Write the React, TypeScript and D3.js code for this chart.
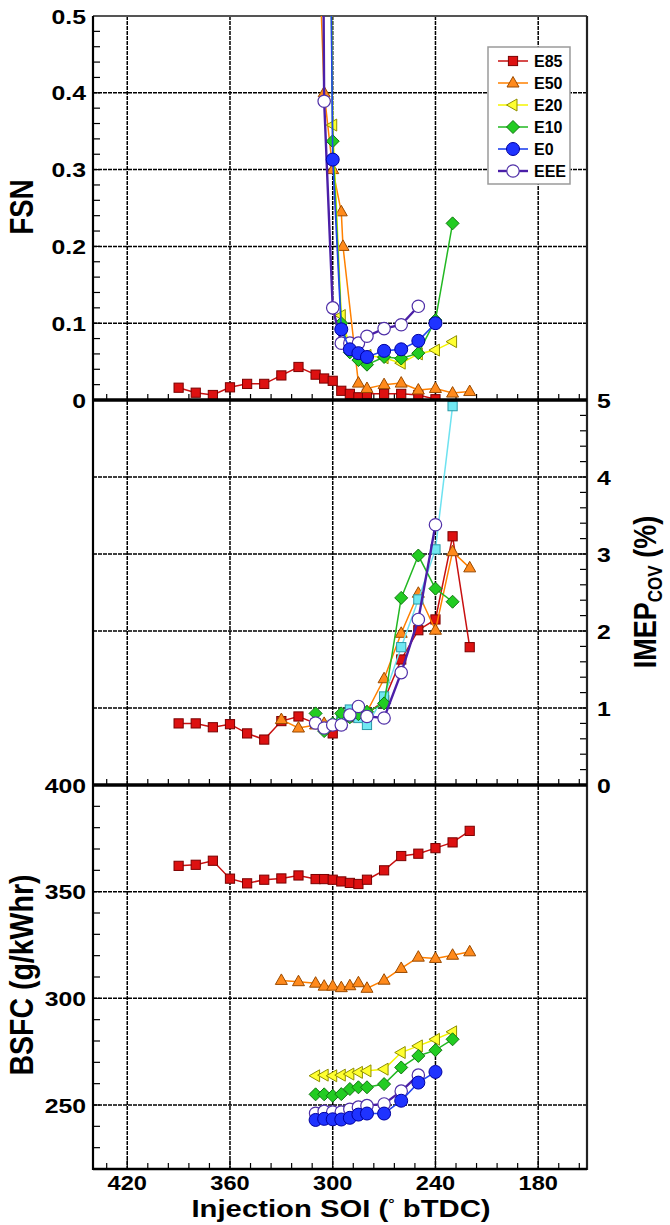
import React from 'react';
import * as d3 from 'd3';

// ---------------- data ----------------
// FSN (top panel)
const fsnSoiE85 = [390, 380, 370, 360, 350, 340, 330, 320, 310, 305, 300, 295, 290, 285, 280, 270, 260, 250, 240];
const fsnE85 = [0.016, 0.0095, 0.0065, 0.0165, 0.021, 0.021, 0.032, 0.043, 0.033, 0.028, 0.025, 0.012, 0.008, 0.0035, 0.008, 0.008, 0.008, 0.0065, 0.001];
const fsnSoiE50 = [310, 305, 300, 295, 294, 285, 280, 270, 260, 250, 240, 230, 220];
const fsnE50 = [0.71, 0.40, 0.30, 0.245, 0.20, 0.022, 0.015, 0.02, 0.022, 0.013, 0.015, 0.009, 0.011];
const fsnSoiE20 = [305, 300, 295, 290, 285, 280, 270, 260, 250, 240, 230];
const fsnE20 = [1.4, 0.358, 0.11, 0.068, 0.062, 0.058, 0.055, 0.048, 0.06, 0.065, 0.076];
const fsnSoiE10 = [305, 300, 295, 290, 285, 280, 270, 260, 250, 240, 230];
const fsnE10 = [1.4, 0.337, 0.10, 0.062, 0.052, 0.046, 0.056, 0.054, 0.061, 0.104, 0.23];
const fsnSoiE0 = [305, 300, 295, 290, 285, 280, 270, 260, 250, 240];
const fsnE0 = [1.48, 0.313, 0.092, 0.066, 0.061, 0.056, 0.064, 0.066, 0.077, 0.100];
const fsnSoiEEE = [310, 305, 300, 295, 290, 285, 280, 270, 260, 250];
const fsnEEE = [2.2, 0.389, 0.12, 0.074, 0.074, 0.074, 0.083, 0.093, 0.098, 0.122];

// IMEP COV (middle panel)
const imepSoiE85 = [390, 380, 370, 360, 350, 340, 330, 320, 310, 305, 300, 295, 290, 285, 280, 270, 260, 250, 240, 230, 220];
const imepE85 = [0.80, 0.80, 0.75, 0.79, 0.67, 0.59, 0.83, 0.89, 0.80, 0.74, 0.67, 0.78, 0.88, 0.95, 0.92, 1.10, 1.63, 2.01, 2.15, 3.23, 1.79];
const imepSoiE50 = [330, 320, 310, 305, 300, 295, 290, 285, 280, 270, 260, 250, 240, 230, 220];
const imepE50 = [0.85, 0.74, 0.78, 0.80, 0.79, 0.82, 0.90, 0.95, 0.95, 1.38, 1.97, 2.49, 2.01, 3.03, 2.82];
const imepSoiCyan = [305, 300, 295, 290, 285, 280, 270, 260, 250, 240, 230];
const imepCyan = [0.75, 0.78, 0.85, 0.98, 0.87, 0.78, 1.15, 1.79, 2.41, 3.06, 4.92];
const imepSoiE10 = [310, 305, 300, 295, 290, 285, 280, 270, 260, 250, 240, 230];
const imepE10 = [0.93, 0.70, 0.80, 0.93, 0.88, 0.92, 0.95, 1.06, 2.43, 2.98, 2.55, 2.38];
const imepSoiEEE = [310, 305, 300, 295, 290, 285, 280, 270, 260, 250, 240];
const imepEEE = [0.805, 0.74, 0.78, 0.78, 0.91, 1.02, 0.89, 0.87, 1.46, 2.15, 3.38];

// BSFC (bottom panel)
const bsfcSoiE85 = [390, 380, 370, 360, 350, 340, 330, 320, 310, 305, 300, 295, 290, 285, 280, 270, 260, 250, 240, 230, 220];
const bsfcE85 = [362.1, 362.6, 364.5, 356.1, 353.9, 355.6, 356.2, 357.6, 355.9, 355.9, 355.6, 354.8, 354.1, 353.6, 355.6, 360, 366.7, 367.8, 370.4, 373.1, 378.5];
const bsfcSoiE50 = [330, 320, 310, 305, 300, 295, 290, 285, 280, 270, 260, 250, 240, 230, 220];
const bsfcE50 = [308.4, 307.8, 307.1, 305.7, 305.7, 305, 305.9, 307.3, 304.7, 308.5, 314, 319.3, 318.7, 320.2, 321.8];
const bsfcSoiE20 = [310, 305, 300, 295, 290, 285, 280, 270, 260, 250, 240, 230];
const bsfcE20 = [263.7, 264, 263.7, 264, 264.5, 265.3, 266, 266.8, 274.6, 277.7, 280.8, 284.3];
const bsfcSoiE10 = [310, 305, 300, 295, 290, 285, 280, 270, 260, 250, 240, 230];
const bsfcE10 = [255, 255, 254.3, 255.1, 257.5, 258.3, 258.3, 259.8, 267.6, 273, 275.7, 280.8];
const bsfcSoiE0 = [310, 305, 300, 295, 290, 285, 280, 270, 260, 250, 240];
const bsfcE0 = [243, 243.5, 243.3, 243.2, 244, 245.5, 246, 246, 252, 260.5, 265.5];
const bsfcSoiEEE = [310, 305, 300, 295, 290, 285, 280, 270, 260, 250];
const bsfcEEE = [246.1, 247, 246.7, 246.7, 248, 249, 249.7, 250.5, 256.5, 264];

const legendNames = ['E85', 'E50', 'E20', 'E10', 'E0', 'EEE'];
const xTicks = [420, 360, 300, 240, 180];
const fsnTicks = [0, 0.1, 0.2, 0.3, 0.4, 0.5];
const imepTicks = [0, 1, 2, 3, 4, 5];
const bsfcTicks = [250, 300, 350, 400];

// ---------------- styles ----------------
type MType = 'square' | 'tri' | 'triLeft' | 'diamond' | 'circle' | 'circleOpen';
const STY: Record<string, { m: MType; fill: string; stroke: string; line: string; lw: number }> = {
  E85: { m: 'square', fill: '#dd1111', stroke: '#7a0000', line: '#c81010', lw: 1.5 },
  E50: { m: 'tri', fill: '#ff8a1c', stroke: '#9a4a00', line: '#ff8000', lw: 1.5 },
  E20: { m: 'triLeft', fill: '#ffff30', stroke: '#8f8f00', line: '#f4f400', lw: 1.5 },
  E10: { m: 'diamond', fill: '#22cc22', stroke: '#117711', line: '#22b822', lw: 1.5 },
  E0: { m: 'circle', fill: '#1f33ff', stroke: '#0000a0', line: '#2244ee', lw: 1.6 },
  EEE: { m: 'circleOpen', fill: '#ffffff', stroke: '#5030a8', line: '#4b1fa8', lw: 2.4 },
  CY: { m: 'square', fill: '#70e8f2', stroke: '#2a9aa8', line: '#6ee2f0', lw: 1.5 },
};

const FONT = 'Liberation Sans, Arial, Helvetica, sans-serif';
const SX = 1.18;

const X0 = 93, X1 = 587;
const x = d3.scaleLinear().domain([440, 151.5]).range([X0, X1]);
const yF = d3.scaleLinear().domain([0, 0.5]).range([400, 16]);
const yI = d3.scaleLinear().domain([0, 5]).range([785, 400]);
const yB = d3.scaleLinear().domain([220, 400]).range([1169, 785]);

function Marker({ t, cx, cy, s }: { t: MType; cx: number; cy: number; s: any }) {
  const p = { fill: s.fill, stroke: s.stroke, strokeWidth: 1 };
  if (t === 'square') return <rect x={cx - 4.6} y={cy - 4.6} width={9.2} height={9.2} {...p} />;
  if (t === 'tri') return <polygon points={`${cx},${cy - 6.5} ${cx + 6},${cy + 4} ${cx - 6},${cy + 4}`} {...p} />;
  if (t === 'triLeft') return <polygon points={`${cx - 6.5},${cy} ${cx + 4},${cy - 6} ${cx + 4},${cy + 6}`} {...p} />;
  if (t === 'diamond') return <polygon points={`${cx},${cy - 6.5} ${cx + 6.5},${cy} ${cx},${cy + 6.5} ${cx - 6.5},${cy}`} {...p} />;
  if (t === 'circle') return <circle cx={cx} cy={cy} r={6.5} {...p} />;
  return <circle cx={cx} cy={cy} r={6.2} fill="#fff" stroke={s.stroke} strokeWidth={1.2} />;
}

function Series({ xs, ys, y, k }: { xs: number[]; ys: number[]; y: any; k: string }) {
  const s = STY[k];
  const pts: [number, number][] = xs.map((v, i) => [x(v), y(ys[i])]);
  const line = d3.line()(pts) || '';
  return (
    <g>
      <path d={line} fill="none" stroke={s.line} strokeWidth={s.lw} />
      {pts.map((p, i) => <Marker key={i} t={s.m} cx={p[0]} cy={p[1]} s={s} />)}
    </g>
  );
}

function T({ x: tx, y: ty, size, anchor = 'middle', rot = false, children, sx = SX }: any) {
  return (
    <text
      transform={`translate(${tx},${ty}) scale(${sx},1)${rot ? ' rotate(-90)' : ''}`}
      textAnchor={anchor}
      fontFamily={FONT}
      fontWeight="bold"
      fontSize={size}
      fill="#000"
    >
      {children}
    </text>
  );
}

export default function App() {
  const xMinor = d3.range(432, 150, -12);
  const gridStyle = { stroke: '#000', strokeWidth: 1.5, strokeDasharray: '4,1' };
  const fsnMinor = d3.range(0.02, 0.5, 0.02);
  const bsfcMinor = d3.range(230, 400, 10);
  const imepMinor = d3.range(0.2, 5, 0.2);

  return (
    <svg width={670} height={1225} style={{ position: 'absolute', left: 0, top: 0, background: '#fff' }}>
      <defs>
        <clipPath id="cT"><rect x={X0} y={16} width={X1 - X0} height={384} /></clipPath>
        <clipPath id="cM"><rect x={X0} y={400} width={X1 - X0} height={385} /></clipPath>
        <clipPath id="cB"><rect x={X0} y={785} width={X1 - X0} height={384} /></clipPath>
      </defs>
      <rect x={0} y={0} width={670} height={1225} fill="#fff" />

      {/* grid */}
      {xTicks.map(v => <line key={'gx' + v} x1={x(v)} x2={x(v)} y1={16} y2={1169} {...gridStyle} />)}
      {fsnTicks.filter(v => v > 0 && v < 0.5).map(v => <line key={'gf' + v} x1={X0} x2={X1} y1={yF(v)} y2={yF(v)} {...gridStyle} />)}
      {imepTicks.filter(v => v > 0 && v < 5).map(v => <line key={'gi' + v} x1={X0} x2={X1} y1={yI(v)} y2={yI(v)} {...gridStyle} />)}
      {bsfcTicks.filter(v => v < 400).map(v => <line key={'gb' + v} x1={X0} x2={X1} y1={yB(v)} y2={yB(v)} {...gridStyle} />)}

      {/* minor ticks */}
      {[400, 785, 1169].map(yy => xMinor.map(v => (
        <line key={'mx' + yy + v} x1={x(v)} x2={x(v)} y1={yy} y2={yy - (v % 60 === 0 ? 9 : 6)} stroke="#000" strokeWidth={1.2} />
      )))}
      {fsnMinor.map(v => <line key={'mf' + v} x1={X0} x2={X0 + 7} y1={yF(v)} y2={yF(v)} stroke="#000" strokeWidth={1.2} />)}
      {bsfcMinor.map(v => <line key={'mb' + v} x1={X0} x2={X0 + 7} y1={yB(v)} y2={yB(v)} stroke="#000" strokeWidth={1.2} />)}
      {imepMinor.map(v => <line key={'mi' + v} x1={X1} x2={X1 - 7} y1={yI(v)} y2={yI(v)} stroke="#000" strokeWidth={1.2} />)}

      {/* frame */}
      <line x1={X0} x2={X1} y1={16} y2={16} stroke="#555" strokeWidth={2} />
      <line x1={X0} x2={X0} y1={16} y2={1170} stroke="#000" strokeWidth={2.2} />
      <line x1={X1} x2={X1} y1={16} y2={1170} stroke="#222" strokeWidth={2.2} />
      <line x1={X0} x2={X1} y1={1169} y2={1169} stroke="#000" strokeWidth={2.6} />

      {/* top panel */}
      <g clipPath="url(#cT)">
        <Series xs={fsnSoiE85} ys={fsnE85} y={yF} k="E85" />
        <Series xs={fsnSoiE50} ys={fsnE50} y={yF} k="E50" />
        <Series xs={fsnSoiE20} ys={fsnE20} y={yF} k="E20" />
        <Series xs={fsnSoiE10} ys={fsnE10} y={yF} k="E10" />
        <Series xs={fsnSoiEEE} ys={fsnEEE} y={yF} k="EEE" />
        <Series xs={fsnSoiE0} ys={fsnE0} y={yF} k="E0" />
      </g>

      {/* middle panel */}
      <g clipPath="url(#cM)">
        <Series xs={imepSoiE85} ys={imepE85} y={yI} k="E85" />
        <Series xs={imepSoiE50} ys={imepE50} y={yI} k="E50" />
        <Series xs={imepSoiCyan} ys={imepCyan} y={yI} k="CY" />
        <Series xs={imepSoiE10} ys={imepE10} y={yI} k="E10" />
        <Series xs={imepSoiEEE} ys={imepEEE} y={yI} k="EEE" />
      </g>

      {/* bottom panel */}
      <g clipPath="url(#cB)">
        <Series xs={bsfcSoiE85} ys={bsfcE85} y={yB} k="E85" />
        <Series xs={bsfcSoiE50} ys={bsfcE50} y={yB} k="E50" />
        <Series xs={bsfcSoiE20} ys={bsfcE20} y={yB} k="E20" />
        <Series xs={bsfcSoiE10} ys={bsfcE10} y={yB} k="E10" />
        <Series xs={bsfcSoiEEE} ys={bsfcEEE} y={yB} k="EEE" />
        <Series xs={bsfcSoiE0} ys={bsfcE0} y={yB} k="E0" />
      </g>

      {/* panel separators */}
      <line x1={X0} x2={X1} y1={400} y2={400} stroke="#000" strokeWidth={3.5} />
      <line x1={X0} x2={X1} y1={785} y2={785} stroke="#000" strokeWidth={3.5} />

      {/* tick labels */}
      {fsnTicks.map(v => <T key={'lf' + v} x={86} y={yF(v) + 7.5} size={21} anchor="end">{String(v)}</T>)}
      {bsfcTicks.map(v => <T key={'lb' + v} x={86} y={yB(v) + 7.5} size={21} anchor="end">{String(v)}</T>)}
      {imepTicks.map(v => <T key={'li' + v} x={597} y={yI(v) + 7.5} size={21} anchor="start">{String(v)}</T>)}
      {xTicks.map(v => <T key={'lx' + v} x={x(v)} y={1190} size={20}>{String(v)}</T>)}

      {/* axis titles */}
      <T x={33} y={207} size={27.5} rot>FSN</T>
      <T x={33} y={975} size={28.5} rot>BSFC (g/kWhr)</T>
      <T x={656} y={592} size={27} rot>
        IMEP<tspan fontSize={17} dy={5}>COV</tspan><tspan dy={-5}> (%)</tspan>
      </T>
      <T x={341} y={1217} size={24} sx={1.22}>
        Injection SOI (<tspan fontSize={13} dy={-9}>°</tspan><tspan dy={9}> bTDC)</tspan>
      </T>

      {/* legend */}
      <rect x={488} y={47} width={82} height={137} fill="#fff" stroke="#9a9a9a" strokeWidth={1.5} />
      {legendNames.map((n, i) => {
        const cy = 61 + i * 22;
        const s = STY[n];
        return (
          <g key={'lg' + n}>
            <line x1={498} x2={528} y1={cy} y2={cy} stroke={s.line} strokeWidth={s.lw} />
            <Marker t={s.m} cx={513} cy={cy} s={s} />
            <text x={534} y={cy + 6} fontFamily={FONT} fontWeight="bold" fontSize={16} fill="#000">{n}</text>
          </g>
        );
      })}
    </svg>
  );
}
